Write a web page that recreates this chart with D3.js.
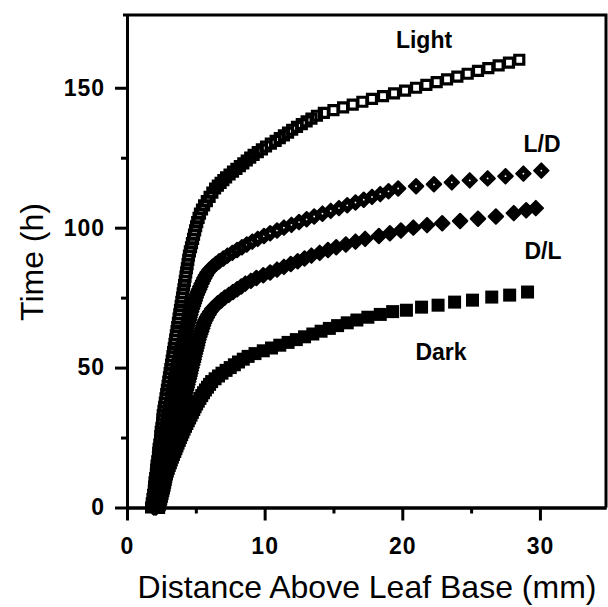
<!DOCTYPE html>
<html>
<head>
<meta charset="utf-8">
<script src="https://cdn.jsdelivr.net/npm/d3@7"></script>
<style>
  body { margin: 0; background: #fff; }
  svg { display: block; }
</style>
</head>
<body>
<div id="chart"></div>
<script>
// Light (open squares)
var lightTime = [0, 1.5, 3, 4.5, 6, 7.5, 9, 10.5, 12, 13.5, 15, 16.5, 18, 19.5, 21, 22.5, 24, 25.5, 27, 28.5,
  30, 31.5, 33, 34.5, 36, 37.5, 39, 40.5, 42, 43.5, 45, 46.5, 48, 49.5, 51, 52.5, 54, 55.5, 57, 58.5,
  60, 61.5, 63, 64.5, 66, 67.5, 69, 70.5, 72, 73.5, 75, 76.5, 78, 79.5, 81, 82.5, 84, 85.5, 87, 88.5,
  90, 91.5, 93, 94.5, 96, 97.5, 99, 100.5, 102, 103.5, 105, 106.5, 108, 109.5, 111, 112.5, 114, 115,
  116, 117, 118, 119, 120, 121, 122, 123, 124, 125, 126, 127, 128, 129, 130, 131, 132, 133, 134, 135,
  136, 137, 138, 139, 140, 141, 142, 143, 144, 145, 146, 147, 148, 149, 150, 151, 152, 153, 154, 155,
  156, 157, 158, 159, 160];
var lightDist = [1.75, 1.8, 1.85, 1.9, 1.95, 1.97, 2.0, 2.05, 2.1, 2.12, 2.15, 2.2, 2.25, 2.27, 2.3, 2.35, 2.4, 2.42, 2.45, 2.5,
  2.55, 2.57, 2.6, 2.65, 2.7, 2.75, 2.8, 2.85, 2.9, 2.95, 3.0, 3.05, 3.1, 3.15, 3.2, 3.25, 3.3, 3.35, 3.4, 3.45,
  3.5, 3.55, 3.6, 3.65, 3.7, 3.75, 3.8, 3.85, 3.9, 3.95, 4.0, 4.05, 4.1, 4.15, 4.2, 4.25, 4.3, 4.35, 4.4, 4.45,
  4.5, 4.57, 4.65, 4.72, 4.8, 4.87, 4.95, 5.02, 5.1, 5.2, 5.3, 5.45, 5.6, 5.8, 6.0, 6.2, 6.4, 6.6,
  6.8, 7.0, 7.2, 7.45, 7.7, 7.95, 8.2, 8.45, 8.7, 8.95, 9.2, 9.5, 9.8, 10.1, 10.45, 10.8, 11.1, 11.4, 11.7, 12.0,
  12.35, 12.7, 13.05, 13.4, 13.8, 14.3, 15.0, 15.7, 16.4, 17.1, 17.8, 18.6, 19.4, 20.2, 21.0, 21.75, 22.5, 23.25, 24.0, 24.75,
  25.5, 26.25, 27.0, 27.75, 28.5];

// L/D (diamonds with a light centre)
var ldTime = [0, 1, 2, 3, 4, 5, 6, 7, 8, 9, 10, 11, 12, 13, 14, 15, 16, 17, 18, 19,
  20, 21, 22, 23, 24, 25, 26, 27, 28, 29, 30, 31, 32, 33, 34, 35, 36, 37, 38, 39,
  40, 41, 42, 43, 44, 45, 46, 47, 48, 49, 50, 51, 52, 53, 54, 55, 56, 57, 58, 59,
  60, 61, 62, 63, 64, 65, 66, 67, 68, 69, 70, 71, 72, 73, 74, 75, 76, 77, 78, 79,
  80, 81, 82, 83, 84, 85, 86, 87, 88, 89, 90, 91, 92, 93, 94, 95, 96, 97, 98, 99,
  100, 101, 102, 103, 104, 105, 106, 107, 108, 109, 110, 111, 112, 113, 114, 114.8, 115.5, 116.2, 116.9, 117.6,
  118.4, 119.3, 120.4];
var ldDist = [1.95, 1.98, 2.02, 2.05, 2.08, 2.12, 2.15, 2.18, 2.22, 2.25, 2.28, 2.32, 2.35, 2.38, 2.42, 2.45, 2.48, 2.52, 2.55, 2.58,
  2.62, 2.65, 2.68, 2.72, 2.75, 2.78, 2.82, 2.85, 2.88, 2.92, 2.95, 2.98, 3.02, 3.05, 3.08, 3.12, 3.15, 3.2, 3.25, 3.28,
  3.32, 3.36, 3.4, 3.44, 3.47, 3.5, 3.53, 3.57, 3.6, 3.65, 3.7, 3.74, 3.77, 3.81, 3.85, 3.9, 3.95, 4.0, 4.05, 4.1,
  4.15, 4.2, 4.25, 4.3, 4.35, 4.4, 4.45, 4.5, 4.55, 4.61, 4.67, 4.73, 4.8, 4.86, 4.93, 5.0, 5.07, 5.16, 5.25, 5.33,
  5.42, 5.52, 5.62, 5.73, 5.85, 6.0, 6.2, 6.45, 6.7, 7.0, 7.3, 7.65, 8.0, 8.35, 8.7, 9.1, 9.5, 9.95, 10.4, 10.9,
  11.4, 11.95, 12.5, 13.05, 13.6, 14.2, 14.8, 15.4, 16.0, 16.6, 17.2, 17.8, 18.4, 19.0, 19.7, 21.0, 22.3, 23.6, 24.9, 26.2,
  27.5, 28.8, 30.1];

// D/L (filled diamonds)
var dlTime = [0, 1, 2, 3, 4, 5, 6, 7, 8, 9, 10, 11, 12, 13, 14, 15, 16, 17, 18, 19,
  20, 21, 22, 23, 24, 25, 26, 27, 28, 29, 30, 31, 32, 33, 34, 35, 36, 37, 38, 39,
  40, 41, 42, 43, 44, 45, 46, 47, 48, 49, 50, 51, 52, 53, 54, 55, 56, 57, 58, 59,
  60, 61, 62, 63, 64, 65, 66, 67, 68, 69, 70, 71, 72, 73, 74, 75, 76, 77, 78, 79,
  80, 81, 82, 83, 84, 85, 86, 87, 88, 89, 90, 91, 92, 93, 94, 95, 96, 97, 98, 99,
  100, 100.9, 101.6, 102.4, 103.2, 104, 105.2, 106.2, 107];
var dlDist = [2.1, 2.13, 2.17, 2.21, 2.25, 2.3, 2.35, 2.4, 2.45, 2.5, 2.55, 2.6, 2.65, 2.7, 2.75, 2.8, 2.85, 2.9, 2.95, 3.0,
  3.05, 3.1, 3.15, 3.2, 3.25, 3.3, 3.35, 3.41, 3.47, 3.53, 3.6, 3.65, 3.7, 3.76, 3.82, 3.88, 3.95, 4.01, 4.08, 4.14,
  4.2, 4.25, 4.3, 4.35, 4.4, 4.45, 4.5, 4.55, 4.6, 4.65, 4.7, 4.75, 4.8, 4.85, 4.9, 4.95, 5.0, 5.05, 5.1, 5.15,
  5.2, 5.26, 5.33, 5.4, 5.47, 5.53, 5.6, 5.7, 5.8, 5.92, 6.05, 6.2, 6.4, 6.6, 6.85, 7.1, 7.4, 7.7, 8.0, 8.3,
  8.6, 9.0, 9.4, 9.9, 10.4, 10.9, 11.4, 11.9, 12.4, 12.9, 13.4, 14.0, 14.6, 15.2, 15.9, 16.6, 17.3, 18.3, 19.1, 19.9,
  20.8, 21.8, 22.9, 24.2, 25.5, 26.8, 28.1, 29.0, 29.7];

// Dark (filled squares)
var darkTime = [0, 1, 2, 3, 4, 5, 6, 7, 8, 9, 10, 11, 12, 13, 14, 15, 16, 17, 18, 19,
  20, 21, 22, 23, 24, 25, 26, 27, 28, 29, 30, 31, 32, 33, 34, 35, 36, 37, 38, 39,
  40, 41, 42, 43, 44, 45, 46, 47, 48, 49, 50, 51, 52, 53, 54, 55, 56, 57, 58, 59,
  60, 61, 62, 63, 64, 65, 66, 67, 68, 69, 70, 70.5, 71.6, 72.3, 73.4, 74.1, 75.2, 75.9, 77];
var darkDist = [2.3, 2.35, 2.4, 2.45, 2.5, 2.55, 2.6, 2.65, 2.7, 2.74, 2.78, 2.82, 2.87, 2.93, 3.0, 3.07, 3.15, 3.22, 3.3, 3.38,
  3.47, 3.55, 3.63, 3.71, 3.8, 3.88, 3.97, 4.06, 4.15, 4.25, 4.35, 4.45, 4.55, 4.65, 4.75, 4.85, 4.95, 5.06, 5.18, 5.3,
  5.43, 5.56, 5.7, 5.85, 6.0, 6.15, 6.4, 6.65, 6.9, 7.2, 7.5, 7.8, 8.1, 8.45, 8.8, 9.3, 9.9, 10.5, 11.1, 11.7,
  12.3, 12.9, 13.5, 14.1, 14.7, 15.3, 16.0, 16.7, 17.5, 18.4, 19.3, 20.3, 21.4, 22.6, 23.8, 25.1, 26.5, 27.8, 29.1];

var xMajor = [0, 10, 20, 30],
    xMinor = [5, 15, 25],
    yMajor = [0, 50, 100, 150],
    yMinor = [25, 75, 125];

var seriesLabels = [
  {name: "Light", x: 424, y: 48},
  {name: "L/D", x: 542, y: 152},
  {name: "D/L", x: 543, y: 259},
  {name: "Dark", x: 441, y: 360}
];

var width = 608,
    height = 607;

var svg = d3.select("#chart")
    .append("svg")
    .attr("width", width)
    .attr("height", height);

var x = d3.scaleLinear().domain([0, 34.8]).range([127, 606]);
var y = d3.scaleLinear().domain([0, 176]).range([507.5, 15]);

function pairs(dist, time) {
    return dist.map(function(d, i) { return [d, time[i]]; });
}

// frame top / right
svg.append("path")
    .attr("d", "M" + (x(0) - 4) + "," + y(176) + "H" + x(34.8) + "V" + y(0))
    .attr("fill", "none")
    .attr("stroke", "#000")
    .attr("stroke-width", 3);

// axes
svg.append("g")
    .attr("transform", "translate(0," + y(0) + ")")
    .call(d3.axisBottom(x).tickValues(xMajor).tickSize(13).tickSizeOuter(0).tickPadding(17));

svg.append("g")
    .attr("transform", "translate(0," + y(0) + ")")
    .call(d3.axisBottom(x).tickValues(xMinor).tickSize(6).tickSizeOuter(0).tickFormat(""));

svg.append("g")
    .attr("transform", "translate(" + x(0) + ",0)")
    .call(d3.axisLeft(y).tickValues(yMajor).tickSize(12).tickSizeOuter(0).tickPadding(10));

svg.append("g")
    .attr("transform", "translate(" + x(0) + ",0)")
    .call(d3.axisLeft(y).tickValues(yMinor).tickSize(6).tickSizeOuter(0).tickFormat(""));

svg.selectAll(".domain, .tick line")
    .attr("stroke", "#000")
    .attr("stroke-width", 3);

svg.selectAll(".tick text")
    .attr("fill", "#000")
    .style("font-family", "'Liberation Sans', Arial, sans-serif")
    .style("font-size", "23px")
    .style("font-weight", "bold")
    .style("letter-spacing", "1px");

// axis titles
svg.append("text")
    .attr("x", 367)
    .attr("y", 598)
    .attr("text-anchor", "middle")
    .style("font-family", "'Liberation Sans', Arial, sans-serif")
    .style("font-size", "32px")
    .text("Distance Above Leaf Base (mm)");

svg.append("text")
    .attr("transform", "translate(43,262) rotate(-90)")
    .attr("text-anchor", "middle")
    .style("font-family", "'Liberation Sans', Arial, sans-serif")
    .style("font-size", "32px")
    .text("Time (h)");

// markers
var sq = d3.symbol().type(d3.symbolSquare);

svg.append("g").selectAll("path")
    .data(pairs(lightDist, lightTime))
    .enter().append("path")
    .attr("d", sq.size(81)())
    .attr("transform", function(d) { return "translate(" + x(d[0]) + "," + y(d[1]) + ")"; })
    .attr("fill", "none")
    .attr("stroke", "#000")
    .attr("stroke-width", 3.2);

svg.append("g").selectAll("path")
    .data(pairs(darkDist, darkTime))
    .enter().append("path")
    .attr("d", sq.size(169)())
    .attr("transform", function(d) { return "translate(" + x(d[0]) + "," + y(d[1]) + ")"; })
    .attr("fill", "#000");

svg.append("g").selectAll("path")
    .data(pairs(dlDist, dlTime))
    .enter().append("path")
    .attr("d", sq.size(105)())
    .attr("transform", function(d) { return "translate(" + x(d[0]) + "," + y(d[1]) + ") rotate(45)"; })
    .attr("fill", "#000")
    .attr("stroke", "#000")
    .attr("stroke-width", 2)
    .attr("stroke-linejoin", "round");

var ld = svg.append("g").selectAll("g")
    .data(pairs(ldDist, ldTime))
    .enter().append("g")
    .attr("transform", function(d) { return "translate(" + x(d[0]) + "," + y(d[1]) + ")"; });

ld.append("path")
    .attr("d", sq.size(105)())
    .attr("transform", "rotate(45)")
    .attr("fill", "#000")
    .attr("stroke", "#000")
    .attr("stroke-width", 2)
    .attr("stroke-linejoin", "round");

ld.append("circle")
    .attr("r", 0.9)
    .attr("fill", "#fff");

// series labels
svg.selectAll(".label")
    .data(seriesLabels)
    .enter().append("text")
    .attr("class", "label")
    .attr("x", function(d) { return d.x; })
    .attr("y", function(d) { return d.y; })
    .attr("text-anchor", "middle")
    .style("font-family", "'Liberation Sans', Arial, sans-serif")
    .style("font-size", "23px")
    .style("font-weight", "bold")
    .text(function(d) { return d.name; });
</script>
</body>
</html>
